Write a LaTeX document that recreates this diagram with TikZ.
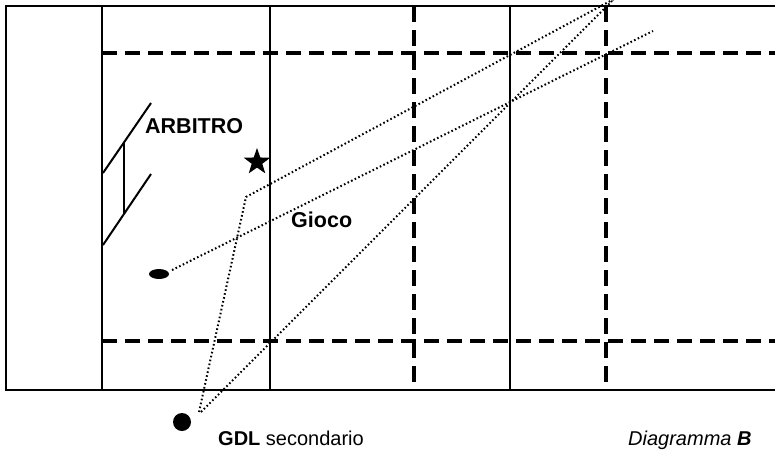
\documentclass[tikz,border=0pt]{standalone}
\usepackage{fontspec}
\setmainfont{Liberation Sans}
\usetikzlibrary{shapes.geometric}
\tikzset{
  field/.style={line width=2pt, line cap=rect},
  zonev/.style={line width=4.5pt, dash pattern=on 16pt off 8pt},
  zoneh/.style={line width=3.5pt, dash pattern=on 15pt off 8pt},
  run/.style={line width=2pt, dash pattern=on 1.6pt off 2.4pt},
  label/.style={inner sep=0pt, font=\fontsize{20}{24}\selectfont},
  biglabel/.style={inner sep=0pt, font=\fontsize{21.5}{26}\selectfont\bfseries},
}
\begin{document}
\begin{tikzpicture}[x=1pt, y=-1pt]
\useasboundingbox (0,0) rectangle (775,453);
\begin{scope}
\clip (0,0) rectangle (775,453);
% pitch outline and solid lines
\draw[field] (775,6) -- (6,6) -- (6,390) -- (775,390);
\foreach \x in {102,270,510} \draw[field] (\x,6) -- (\x,390);
% dashed zones
\foreach \x in {414,606} \draw[zonev] (\x,6) -- (\x,390);
\foreach \y in {53,341} \draw[zoneh] (102,\y) -- (775,\y);
% referee
\draw[line width=2pt] (103,173) -- (151,103);
\draw[line width=2pt] (103,245) -- (151,174);
\draw[line width=2pt] (124,142) -- (124,214);
% players and markers
\node[star, star points=5, star point ratio=2.5, minimum size=28pt, inner sep=0pt, fill=black] (star) at (257,162) {};
\node[ellipse, fill=black, minimum width=20pt, minimum height=10pt, inner sep=0pt] (ball) at (159,274) {};
\node[circle, fill=black, minimum size=18pt, inner sep=0pt] (gdl) at (182,422) {};
\coordinate (gdlA) at (199,412);
\coordinate (gdlB) at (201,412);
\coordinate (ballA) at (172,270);
\coordinate (kink) at (246,197);
\coordinate (endA) at (614,-1);
\coordinate (endB) at (612,1);
\coordinate (endC) at (653,31);
% dotted paths
\draw[run] (gdlA) -- (kink) -- (endA);
\draw[run] (gdlB) -- (endB);
\draw[run] (ballA) -- (endC);
% labels
\node[biglabel, anchor=base west] (arb) at (145,133) {ARBITRO};
\node[biglabel, anchor=base west] (gioco) at (291,227) {Gioco};
\node[label, anchor=base west] (gdltext) at (218,445) {\bfseries GDL\mdseries\ secondario};
\node[label, anchor=base west] (diag) at (628,445) {\itshape Diagramma \bfseries B};
\end{scope}
\end{tikzpicture}
\end{document}
